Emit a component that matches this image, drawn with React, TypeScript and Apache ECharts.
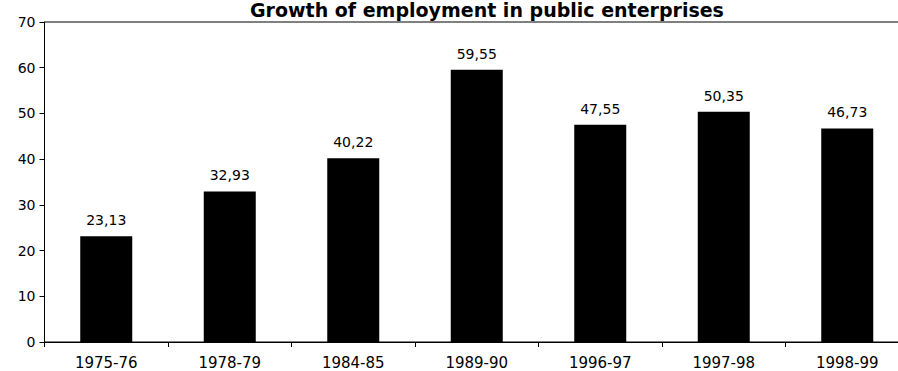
import React, { useEffect, useRef } from "react";
import * as echarts from "echarts";

const periods = ["1975-76", "1978-79", "1984-85", "1989-90", "1996-97", "1997-98", "1998-99"];
const employment = [23.13, 32.93, 40.22, 59.55, 47.55, 50.35, 46.73];
const yTicks = { min: 0, max: 70, interval: 10 };

const FONT = "DejaVu Sans";

export default function App() {
  const ref = useRef<HTMLDivElement>(null);

  useEffect(() => {
    if (!ref.current) return;
    const chart = echarts.init(ref.current, undefined, { renderer: "svg" });
    chart.setOption({
      animation: false,
      backgroundColor: "#ffffff",
      title: {
        text: "Growth of employment in public enterprises",
        left: 250,
        top: 0,
        padding: 0,
        textStyle: {
          fontFamily: FONT,
          fontWeight: "bold",
          fontSize: 19,
          lineHeight: 20,
          color: "#000",
        },
      },
      grid: {
        left: 44.5,
        right: 1,
        top: 22,
        bottom: 29,
        show: true,
        borderColor: "#000",
        borderWidth: 1,
        containLabel: false,
      },
      xAxis: {
        type: "category",
        data: periods,
        axisLine: { show: true, lineStyle: { color: "#000", width: 1 } },
        axisTick: { show: true, alignWithLabel: false, length: 5, lineStyle: { color: "#000" } },
        axisLabel: {
          color: "#000",
          fontFamily: FONT,
          fontSize: 15,
          margin: 13,
        },
      },
      yAxis: {
        type: "value",
        min: yTicks.min,
        max: yTicks.max,
        interval: yTicks.interval,
        splitLine: { show: false },
        axisLine: { show: true, lineStyle: { color: "#000", width: 1 } },
        axisTick: { show: true, length: 5, lineStyle: { color: "#000" } },
        axisLabel: {
          color: "#000",
          fontFamily: FONT,
          fontSize: 14,
          margin: 9,
        },
      },
      series: [
        {
          type: "bar",
          data: employment,
          barWidth: 52,
          itemStyle: { color: "#000" },
          label: {
            show: true,
            position: "top",
            distance: 9,
            color: "#000",
            fontFamily: FONT,
            fontSize: 14,
            formatter: (p: any) => p.value.toFixed(2).replace(".", ","),
          },
        },
      ],
    });
    return () => chart.dispose();
  }, []);

  // The plot runs slightly past the right edge of the visible frame.
  return (
    <div style={{ width: 898, height: 371, position: "absolute", left: 0, top: 0, overflow: "hidden" }}>
      <div ref={ref} style={{ width: 910, height: 371 }} />
    </div>
  );
}
